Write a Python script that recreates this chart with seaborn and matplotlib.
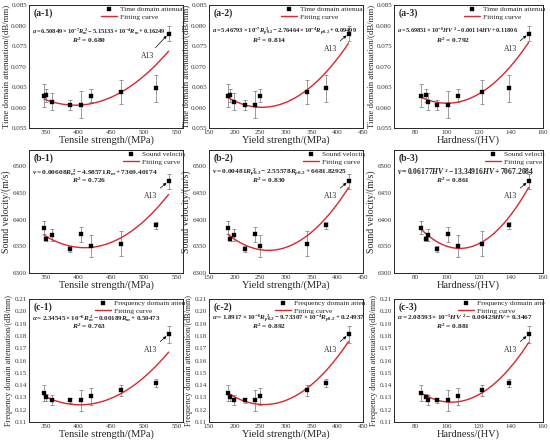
import numpy as np
import pandas as pd
import matplotlib
matplotlib.use("Agg")
import matplotlib.pyplot as plt
import matplotlib.transforms as mtransforms
import seaborn as sns

# measured samples (same order in every panel, last one is A13)
tensile = [348, 351, 360, 387, 405, 420, 465, 519, 538]
yield_s = [187, 190, 198, 221, 239, 250, 340, 377, 422]
hardness = [84, 87, 88, 94, 101, 107, 122, 139, 151]

time_att = [0.0629, 0.0630, 0.0614, 0.0607, 0.0607, 0.0629, 0.0638, 0.0647, 0.0780]
time_err = [0.0028, 0.0016, 0.0021, 0.0012, 0.0033, 0.0016, 0.0029, 0.0033, 0.0019]
velocity = [6385, 6364, 6371, 6345, 6372, 6350, 6355, 6389, 6472]
vel_err = [12, 5, 11, 6, 14, 21, 23, 7, 14]
freq_att = [0.1335, 0.1300, 0.1280, 0.1275, 0.1275, 0.1310, 0.1358, 0.1420, 0.1812]
freq_err = [0.0065, 0.0030, 0.0040, 0.0018, 0.0085, 0.0070, 0.0045, 0.0032, 0.0070]

# fitting curve coefficients written in each panel (x^2, x, const)
coefs = {
    ("a", 1): [6.50849e-7, -5.15133e-4, 0.16249],
    ("a", 2): [5.46793e-7, -2.76464e-4, 0.09499],
    ("a", 3): [5.69851e-6, -0.00114, 0.11806],
    ("b", 1): [0.00608, -4.98571, 7369.40174],
    ("b", 2): [0.00481, -2.55578, 6681.82925],
    ("b", 3): [0.06177, -13.34916, 7067.2084],
    ("c", 1): [2.34545e-6, -0.00189, 0.50473],
    ("c", 2): [1.8917e-6, -9.73307e-4, 0.24937],
    ("c", 3): [2.08593e-5, -0.00429, 0.3467],
}
r2 = {("a", 1): "0.680", ("a", 2): "0.814", ("a", 3): "0.792",
      ("b", 1): "0.726", ("b", 2): "0.830", ("b", 3): "0.861",
      ("c", 1): "0.763", ("c", 2): "0.892", ("c", 3): "0.881"}

eqs = {
    ("a", 1): r"$a = 6.50849\times10^{-7}R_m^{\ 2} - 5.15133\times10^{-4}R_m + 0.16249$",
    ("a", 2): r"$a = 5.46793\times10^{-7}R_{p0.2}^{\ 2} - 2.76464\times10^{-4}R_{p0.2} + 0.09499$",
    ("a", 3): r"$a = 5.69851\times10^{-6}HV^{\ 2} - 0.00114HV + 0.11806$",
    ("b", 1): r"$v = 0.00608R_m^{\ 2} - 4.98571R_m + 7369.40174$",
    ("b", 2): r"$v = 0.00481R_{p0.2}^{\ 2} - 2.55578R_{p0.2} + 6681.82925$",
    ("b", 3): r"$v = 0.06177HV^{\ 2} - 13.34916HV + 7067.2084$",
    ("c", 1): r"$\alpha = 2.34545\times10^{-6}R_m^{\ 2} - 0.00189R_m + 0.50473$",
    ("c", 2): r"$\alpha = 1.8917\times10^{-6}R_{p0.2}^{\ 2} - 9.73307\times10^{-4}R_{p0.2} + 0.24937$",
    ("c", 3): r"$\alpha = 2.08593\times10^{-5}HV^{\ 2} - 0.00429HV + 0.3467$",
}
eq_size = {("a", 1): 4.6, ("a", 2): 4.7, ("a", 3): 4.5,
           ("b", 1): 5.3, ("b", 2): 5.3, ("b", 3): 5.5,
           ("c", 1): 5.0, ("c", 2): 5.0, ("c", 3): 5.2}

sns.set_style("white")
plt.rcParams["font.family"] = ["Liberation Serif", "DejaVu Serif"]
plt.rcParams["mathtext.fontset"] = "custom"
plt.rcParams["mathtext.rm"] = "Liberation Serif:bold"
plt.rcParams["mathtext.it"] = "Liberation Serif:italic:bold"
plt.rcParams["mathtext.bf"] = "Liberation Serif:bold"

W, H = 550, 444
fig = plt.figure(figsize=(5.5, 4.44), dpi=100)

cols = [(29, 183), (209, 363), (394, 543)]
rows = [(5, 128), (150, 273), (299, 422)]

xs = {1: tensile, 2: yield_s, 3: hardness}
xlabels = {1: "Tensile strength/(MPa)", 2: "Yield strength/(MPa)", 3: "Hardness/(HV)"}
xlims = {1: (325, 560), 2: (150, 450), 3: (67, 160)}
xticks = {1: [350, 400, 450, 500, 550], 2: [150, 200, 250, 300, 350, 400, 450],
          3: [80, 100, 120, 140, 160]}

ys = {"a": (time_att, time_err), "b": (velocity, vel_err), "c": (freq_att, freq_err)}
ylabels = {"a": "Time domain attenuation/(dB/mm)", "b": "Sound velocity/(m/s)",
           "c": "Frequency domain attenuation/(dB/mm)"}
ylsize = {"a": 6.3, "b": 7, "c": 5.9}
legnames = {"a": "Time domain attenuation", "b": "Sound velocity",
            "c": "Frequency domain attenuation"}
ylims = {"a": (0.055, 0.085), "b": (6300, 6530), "c": (0.11, 0.21)}
yticks = {"a": np.arange(0.055, 0.0851, 0.005), "b": [6300, 6350, 6400, 6450, 6500],
          "c": np.arange(0.11, 0.2101, 0.01)}
yfmt = {"a": "{:.3f}", "b": "{:.0f}", "c": "{:.2f}"}
eq_y = {"a": (0.77, 0.695), "b": (0.80, 0.73), "c": (0.83, 0.76)}
leg_x = {"a": 0.44, "b": 0.58, "c": 0.40}

for ri, row in enumerate(["a", "b", "c"]):
    for ci, col in enumerate([1, 2, 3]):
        l, r = cols[ci]
        t, b = rows[ri]
        ax = fig.add_axes([l / W, 1 - b / H, (r - l) / W, (b - t) / H])
        x = xs[col]
        y, e = ys[row]

        ax.errorbar(x, y, yerr=e, fmt="none", ecolor="#8a8a8a", elinewidth=0.6,
                    capsize=1.5, capthick=0.6, zorder=2)
        pts = pd.DataFrame({"x": x, "y": y})
        sns.scatterplot(data=pts, x="x", y="y", marker="s", color="black", s=10,
                        edgecolor="black", ax=ax, zorder=4, label=legnames[row])
        xx = np.linspace(min(x), max(x), 200)
        fit = pd.DataFrame({"x": xx, "y": np.polyval(coefs[(row, col)], xx)})
        sns.lineplot(data=fit, x="x", y="y", color="#d9262f", lw=1.0, ax=ax,
                     zorder=3, label="Fitting curve")

        ax.set_xlim(*xlims[col])
        ax.set_ylim(*ylims[row])
        ax.set_xticks(xticks[col])
        ax.set_yticks(yticks[row])
        ax.set_yticklabels([yfmt[row].format(v) for v in yticks[row]])
        ax.tick_params(direction="in", length=2, width=0.6, labelsize=5, pad=1.5,
                       labelcolor="#333333")
        for s in ax.spines.values():
            s.set_linewidth(0.7)
        ax.set_xlabel(xlabels[col], fontsize=7.5, labelpad=0.5)
        ax.set_ylabel(ylabels[row], fontsize=ylsize[row], labelpad=1)

        leg = ax.legend(loc="upper left", bbox_to_anchor=(leg_x[row], 1.03),
                        frameon=False, fontsize=5.3, handlelength=2.2,
                        handletextpad=0.4, borderaxespad=0.2, labelspacing=0.25)
        # the legend text runs past the panel edge and is cut there
        clip = mtransforms.Bbox.from_extents(l / W, 0, (r + 2) / W, 1)
        clip = mtransforms.TransformedBbox(clip, fig.transFigure)
        for txt in leg.get_texts():
            txt.set_clip_box(clip)
            txt.set_clip_on(True)

        ax.text(0.03, 0.91, f"({row}-{col})", transform=ax.transAxes,
                fontsize=7, fontweight="bold")
        ax.text(0.02, eq_y[row][0], eqs[(row, col)], transform=ax.transAxes,
                fontsize=eq_size[(row, col)])
        ax.text(0.28, eq_y[row][1], r"$R^2$ = " + r2[(row, col)],
                transform=ax.transAxes, fontsize=5.3, fontweight="bold")

        off = (-15, -16) if row == "a" and col == 1 else (-13, -11)
        ax.annotate("A13", xy=(x[-1], y[-1]), xytext=off, textcoords="offset points",
                    ha="center", va="center", fontsize=5.5,
                    arrowprops=dict(arrowstyle="-|>", color="black", lw=0.5,
                                    mutation_scale=4, shrinkA=1, shrinkB=2))

fig.savefig("out.png", dpi=100)
